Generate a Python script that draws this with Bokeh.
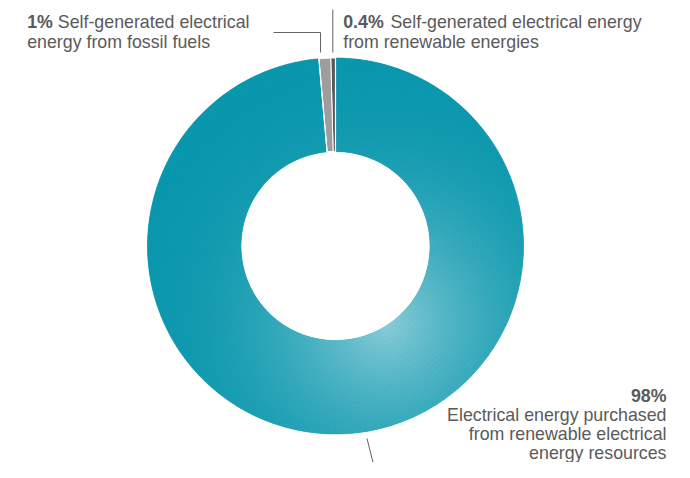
import math
from bokeh.plotting import figure
from bokeh.models import Range1d, ColumnDataSource
from bokeh.core.properties import value
from bokeh.embed import file_html
from bokeh.resources import INLINE

# ---- data ----
shares = [0.4, 1.0, 98.0]          # order going anticlockwise from the top
bold_labels = ["0.4%", "1%", "98%"]
slice_colors = ["#585858", "#9d9d9d", "#0a97ad"]
label_lines = [
    ["Self-generated electrical energy", "from renewable energies"],
    ["Self-generated electrical", "energy from fossil fuels"],
    ["Electrical energy purchased", "from renewable electrical", "energy resources"],
]

W, H = 674, 462
p = figure(width=W, height=H, output_backend="svg", toolbar_location=None,
           x_range=Range1d(0, W), y_range=Range1d(478 - H, 478), min_border=0)
p.axis.visible = False
p.grid.visible = False
p.outline_line_color = None
p.background_fill_color = "white"

def Y(py):
    return 478 - py

cx, cy = 335, Y(245.5)
R_out, R_in = 188, 94.5

total = sum(shares)
starts, ends = [], []
a = math.pi / 2
for s in shares:
    starts.append(a)
    a += s / total * 2 * math.pi
    ends.append(a)

# --- teal slice with radial shading ---
t0, t1 = starts[2], ends[2]
p.annular_wedge(x=cx, y=cy, inner_radius=R_in, outer_radius=R_out,
                start_angle=t0, end_angle=t1, fill_color=slice_colors[2],
                line_color=None)
fx, fy = 385, Y(322)
light = (142, 206, 217)
dark = (10, 151, 173)
n_a, n_r = 260, 22
xs, ys, ir, orr, sa, ea, cols = [], [], [], [], [], [], []
for i in range(n_a):
    a0 = t0 + (t1 - t0) * i / n_a
    a1 = t0 + (t1 - t0) * (i + 1) / n_a
    am = (a0 + a1) / 2
    for j in range(n_r):
        r0 = R_in + (R_out - R_in) * j / n_r
        r1 = R_in + (R_out - R_in) * (j + 1) / n_r
        rm = (r0 + r1) / 2
        px = cx + rm * math.cos(am)
        py = cy + rm * math.sin(am)
        d = math.hypot(px - fx, py - fy)
        t = min(d / 270.0, 1.0)
        f = 1 - (1 - t) ** 2.2
        c = tuple(int(round(light[k] + (dark[k] - light[k]) * f)) for k in range(3))
        xs.append(cx); ys.append(cy)
        ir.append(r0); orr.append(r1)
        sa.append(a0); ea.append(a1)
        cols.append("#%02x%02x%02x" % c)
src = ColumnDataSource(dict(x=xs, y=ys, ir=ir, orr=orr, sa=sa, ea=ea, c=cols))
p.annular_wedge(x="x", y="y", inner_radius="ir", outer_radius="orr",
                start_angle="sa", end_angle="ea", fill_color="c",
                line_color="c", line_width=0.6, source=src)

# --- gray slices with white separators ---
p.annular_wedge(x=[cx, cx], y=[cy, cy], inner_radius=R_in, outer_radius=R_out,
                start_angle=starts[:2], end_angle=ends[:2],
                fill_color=slice_colors[:2], line_color="white", line_width=1)
for ang in [starts[0], ends[1]]:
    p.line([cx + R_in * math.cos(ang), cx + (R_out + 1) * math.cos(ang)],
           [cy + R_in * math.sin(ang), cy + (R_out + 1) * math.sin(ang)],
           line_color="white", line_width=1.2)

# --- leader lines ---
lc = "#666666"
p.line([273, 320, 320], [Y(32), Y(32), Y(52)], line_color=lc, line_width=1)
p.line([332.3, 332.3], [Y(9), Y(52)], line_color=lc, line_width=1)
p.line([366.5, 372.5], [Y(438), Y(462)], line_color=lc, line_width=1)

# --- labels ---
font = value("Liberation Sans")
fs = "17.8px"
tc = "#5a5a5a"

def txt(x, py, s, bold=False, align="left"):
    p.text(x=[x], y=[Y(py)], text=[s], text_font=font, text_font_size=fs,
           text_color=tc, text_align=align, text_baseline="alphabetic",
           text_font_style="bold" if bold else "normal")

# 0.4%
txt(342.7, 21.7, bold_labels[0], bold=True)
txt(390, 21.7, label_lines[0][0])
txt(342.7, 41.5, label_lines[0][1])
# 1%
txt(26.7, 21.7, bold_labels[1], bold=True)
txt(57.3, 21.7, label_lines[1][0])
txt(26.7, 41.5, label_lines[1][1])
# 98%
txt(666, 395.0, bold_labels[2], bold=True, align="right")
for k, s in enumerate(label_lines[2]):
    txt(666, 414.0 + k * 19.0, s, align="right")

open("out.html", "w").write(file_html(p, INLINE))
